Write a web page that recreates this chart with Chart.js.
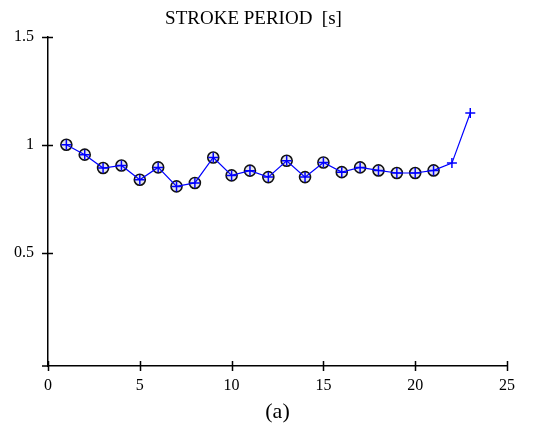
<!DOCTYPE html>
<html>
<head>
<meta charset="utf-8">
<script src="https://cdn.jsdelivr.net/npm/chart.js@4/dist/chart.umd.min.js"></script>
<style>
  html, body { margin: 0; padding: 0; background: #fff; }
  #wrap { width: 540px; height: 426px; }
</style>
</head>
<body>
<div id="wrap"><canvas id="grafico"></canvas></div>
<script>
// dados
const ciclos = [1, 2, 3, 4, 5, 6, 7, 8, 9, 10, 11, 12, 13, 14, 15, 16, 17, 18, 19, 20, 21, 22, 23];
const periodo = [1.00, 0.954, 0.892, 0.904, 0.838, 0.895, 0.807, 0.823, 0.941, 0.858, 0.880, 0.850,
                 0.926, 0.850, 0.918, 0.873, 0.895, 0.881, 0.869, 0.869, 0.881, 0.915, 1.147];
const nComCirculo = 21; // os ultimos dois pontos so tem a cruz
const ticksY = [0.5, 1, 1.5];
const ticksX = [0, 5, 10, 15, 20, 25];

const serif = "'Liberation Serif', 'Times New Roman', serif";

const pontos = ciclos.map((c, i) => ({ x: c, y: periodo[i] }));
const circulos = pontos.slice(0, nComCirculo);

// tracinhos que cruzam os eixos
const marcasEixos = {
    id: 'marcasEixos',
    afterDraw(chart) {
        const ctx = chart.ctx;
        const xs = chart.scales.x;
        const ys = chart.scales.y;
        const area = chart.chartArea;
        ctx.save();
        ctx.strokeStyle = '#000';
        ctx.lineWidth = 1.5;
        ctx.beginPath();
        ticksY.forEach(v => {
            const py = Math.round(ys.getPixelForValue(v)) + 0.5;
            ctx.moveTo(area.left - 6, py);
            ctx.lineTo(area.left + 5, py);
        });
        ticksX.forEach(v => {
            const px = Math.round(xs.getPixelForValue(v)) + 0.5;
            ctx.moveTo(px, area.bottom - 5);
            ctx.lineTo(px, area.bottom + 5);
        });
        ctx.moveTo(area.left - 6, area.bottom);
        ctx.lineTo(area.left, area.bottom);
        ctx.stroke();
        ctx.restore();
    }
};

new Chart(document.getElementById('grafico').getContext('2d'), {
    type: 'line',
    data: {
        datasets: [{
            data: pontos,
            borderColor: '#0000ff',
            borderWidth: 1.2,
            pointStyle: 'cross',
            pointRadius: 5,
            pointBorderColor: '#0000ff',
            pointBorderWidth: 1.5,
            tension: 0,
            fill: false,
            order: 0
        }, {
            data: circulos,
            showLine: false,
            pointStyle: 'circle',
            pointRadius: 5.5,
            pointBorderColor: '#111',
            pointBackgroundColor: '#e4e4ec',
            pointBorderWidth: 1.6,
            order: 1
        }]
    },
    options: {
        responsive: true,
        maintainAspectRatio: false,
        animation: false,
        layout: { padding: { left: 0, right: 33, top: 0, bottom: 0 } },
        plugins: {
            legend: { display: false },
            tooltip: { enabled: false },
            title: {
                display: true,
                text: 'STROKE PERIOD  [s]',
                color: '#000',
                font: { family: serif, size: 19, weight: 'normal' },
                padding: { top: 8, bottom: 6 }
            }
        },
        scales: {
            x: {
                type: 'linear',
                min: 0,
                max: 25,
                afterBuildTicks: s => { s.ticks = ticksX.map(v => ({ value: v })); },
                afterFit: s => { s.height = 60; },
                grid: { display: false },
                border: { display: true, color: '#000', width: 1.5 },
                ticks: {
                    color: '#000',
                    padding: 2,
                    font: { family: serif, size: 16 }
                },
                title: {
                    display: true,
                    text: '(a)',
                    color: '#000',
                    font: { family: serif, size: 22 },
                    padding: { top: 0, bottom: 1 }
                }
            },
            y: {
                min: -0.025,
                max: 1.5,
                afterBuildTicks: s => { s.ticks = ticksY.map(v => ({ value: v })); },
                afterFit: s => { s.width = 48; },
                grid: { display: false },
                border: { display: true, color: '#000', width: 1.5 },
                ticks: {
                    color: '#000',
                    padding: 6,
                    font: { family: serif, size: 16 },
                    callback: v => String(v)
                }
            }
        }
    },
    plugins: [marcasEixos]
});
</script>
</body>
</html>
